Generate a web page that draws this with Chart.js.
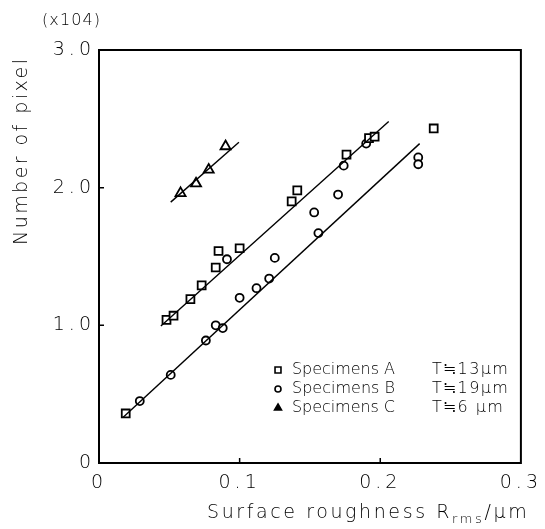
<!DOCTYPE html>
<html lang="en">
<head>
  <meta charset="UTF-8">
  <title>Number of pixel vs surface roughness</title>
  <style>
    body { margin: 0; background: #fff; }
    #wrap { width: 545px; height: 529px; }
  </style>
</head>
<body>
  <div id="wrap"><canvas id="pixelChart" width="545" height="529"></canvas></div>

  <script src="https://cdn.jsdelivr.net/npm/chart.js"></script>
  <script>
    // Specimens A (squares)
    const specA_x = [0.019, 0.048, 0.053, 0.065, 0.073, 0.083, 0.085, 0.100, 0.137, 0.141, 0.176, 0.192, 0.196, 0.238];
    const specA_y = [0.36, 1.04, 1.07, 1.19, 1.29, 1.42, 1.54, 1.56, 1.90, 1.98, 2.24, 2.36, 2.37, 2.43];
    // Specimens B (circles)
    const specB_x = [0.029, 0.051, 0.076, 0.083, 0.088, 0.091, 0.100, 0.112, 0.121, 0.125, 0.153, 0.156, 0.170, 0.174, 0.190, 0.227, 0.227];
    const specB_y = [0.45, 0.64, 0.89, 1.00, 0.98, 1.48, 1.20, 1.27, 1.34, 1.49, 1.82, 1.67, 1.95, 2.16, 2.32, 2.22, 2.17];
    // Specimens C (triangles)
    const specC_x = [0.058, 0.069, 0.078, 0.090];
    const specC_y = [1.96, 2.03, 2.13, 2.30];

    // fitted lines, end points
    const lineA_x = [0.044, 0.206];
    const lineA_y = [0.995, 2.48];
    const lineB_x = [0.017, 0.228];
    const lineB_y = [0.33, 2.32];
    const lineC_x = [0.051, 0.0995];
    const lineC_y = [1.895, 2.33];

    const xTicks = [0, 0.1, 0.2, 0.3];
    const yTicks = [0, 1, 2, 3];
    const xTickLabels = ['0', '0.1', '0.2', '0.3'];
    const yTickLabels = ['0', '1.0', '2.0', '3.0'];

    const legendNames = ['Specimens A', 'Specimens B', 'Specimens C'];
    const legendThick = ['T\u225213\u03bcm', 'T\u225219\u03bcm', 'T\u22526 \u03bcm'];
    const legendStyles = ['rect', 'circle', 'triangle'];

    const FONT = "'DejaVu Sans', sans-serif";
    const W = '200 ';

    const toPts = (xs, ys) => xs.map((x, i) => ({ x: x, y: ys[i] }));

    function markerSet(label, xs, ys, style, radius) {
      return {
        label: label,
        data: toPts(xs, ys),
        showLine: false,
        pointStyle: style,
        pointRadius: radius,
        pointBorderColor: '#000',
        pointBackgroundColor: '#fff',
        pointBorderWidth: 1.8
      };
    }

    function fitLine(xs, ys) {
      return {
        label: 'fit',
        data: toPts(xs, ys),
        showLine: true,
        borderColor: '#000',
        borderWidth: 1.4,
        pointRadius: 0
      };
    }

    // draws text with letter spacing stretched so it spans the given width
    function spacedText(ctx, text, x, y, size, width) {
      ctx.font = W + size + 'px ' + FONT;
      ctx.letterSpacing = '0px';
      const w = ctx.measureText(text).width;
      const sp = text.length > 1 ? (width - w) / (text.length - 1) : 0;
      ctx.letterSpacing = sp + 'px';
      ctx.fillText(text, x, y);
      ctx.letterSpacing = '0px';
    }

    const frame = {
      id: 'frame',
      beforeDraw(chart) {
        chart.ctx.letterSpacing = '4px';
      },
      afterDraw(chart) {
        const ctx = chart.ctx;
        const a = chart.chartArea;
        const xs = chart.scales.x, ys = chart.scales.y;
        ctx.save();
        ctx.letterSpacing = '0px';
        ctx.strokeStyle = '#000';
        ctx.fillStyle = '#000';

        // box
        ctx.lineWidth = 2;
        ctx.strokeRect(a.left, a.top, a.right - a.left, a.bottom - a.top);

        // inward ticks
        ctx.lineWidth = 1.5;
        ctx.beginPath();
        [0.1, 0.2].forEach(v => {
          const px = xs.getPixelForValue(v);
          ctx.moveTo(px, a.bottom); ctx.lineTo(px, a.bottom - 5);
        });
        [1, 2].forEach(v => {
          const py = ys.getPixelForValue(v);
          ctx.moveTo(a.left, py); ctx.lineTo(a.left + 5, py);
        });
        ctx.stroke();

        // multiplier
        ctx.textBaseline = 'middle';
        ctx.textAlign = 'left';
        spacedText(ctx, '(x104)', 42, 21, 16, 58);

        // y title
        ctx.save();
        ctx.translate(22, 152);
        ctx.rotate(-Math.PI / 2);
        ctx.textAlign = 'left';
        spacedText(ctx, 'Number of pixel', -93, 0, 19, 186);
        ctx.restore();

        // x title with subscript
        ctx.textBaseline = 'alphabetic';
        ctx.textAlign = 'left';
        let tx = 207;
        const by = 518;
        const parts = [['Surface roughness R', 19, 0], ['rms', 13, 5], ['/\u03bcm', 19, 0]];
        ctx.letterSpacing = '2.6px';
        parts.forEach(p => {
          ctx.font = W + p[1] + 'px ' + FONT;
          ctx.fillText(p[0], tx, by + p[2]);
          tx += ctx.measureText(p[0]).width;
        });
        ctx.letterSpacing = '0px';

        // legend
        ctx.textBaseline = 'middle';
        const rowY = [370, 389, 408];
        legendNames.forEach((name, i) => {
          ctx.lineWidth = 1.6;
          ctx.fillStyle = i === 2 ? '#000' : '#fff';
          Chart.helpers.drawPoint(ctx, { pointStyle: legendStyles[i], radius: i === 0 ? 4.2 : (i === 1 ? 3 : 4), rotation: 0, borderWidth: 1.6 }, 278, rowY[i]);
          ctx.fillStyle = '#000';
          spacedText(ctx, name, 292, rowY[i], 16, 103);
          ctx.letterSpacing = '1.4px';
          ctx.font = W + '16px ' + FONT;
          ctx.fillText(legendThick[i], 432, rowY[i]);
          ctx.letterSpacing = '0px';
        });

        ctx.restore();
      }
    };

    const chart = new Chart(document.getElementById('pixelChart').getContext('2d'), {
      type: 'scatter',
      data: {
        datasets: [
          fitLine(lineA_x, lineA_y),
          fitLine(lineB_x, lineB_y),
          fitLine(lineC_x, lineC_y),
          markerSet('Specimens A', specA_x, specA_y, 'rect', 5.6),
          markerSet('Specimens B', specB_x, specB_y, 'circle', 4),
          markerSet('Specimens C', specC_x, specC_y, 'triangle', 5.8)
        ]
      },
      options: {
        responsive: false,
        devicePixelRatio: 1,
        animation: false,
        layout: { padding: { top: 50, right: 18, left: 0, bottom: 0 } },
        plugins: { legend: { display: false }, tooltip: { enabled: false } },
        scales: {
          x: {
            type: 'linear', min: 0, max: 0.3,
            afterBuildTicks: s => { s.ticks = xTicks.map(v => ({ value: v })); },
            afterFit: s => { s.height = 66; },
            grid: { display: false, drawTicks: false },
            border: { display: false },
            ticks: {
              color: '#000', padding: 9,
              font: { family: FONT, size: 19, weight: 200 },
              callback: (v) => xTickLabels[xTicks.indexOf(Math.round(v * 10) / 10)]
            }
          },
          y: {
            type: 'linear', min: 0, max: 3,
            afterBuildTicks: s => { s.ticks = yTicks.map(v => ({ value: v })); },
            afterFit: s => { s.width = 99; },
            grid: { display: false, drawTicks: false },
            border: { display: false },
            ticks: {
              color: '#000', padding: 4,
              font: { family: FONT, size: 19, weight: 200 },
              callback: (v) => yTickLabels[yTicks.indexOf(v)]
            }
          }
        }
      },
      plugins: [frame]
    });
  </script>
</body>
</html>
